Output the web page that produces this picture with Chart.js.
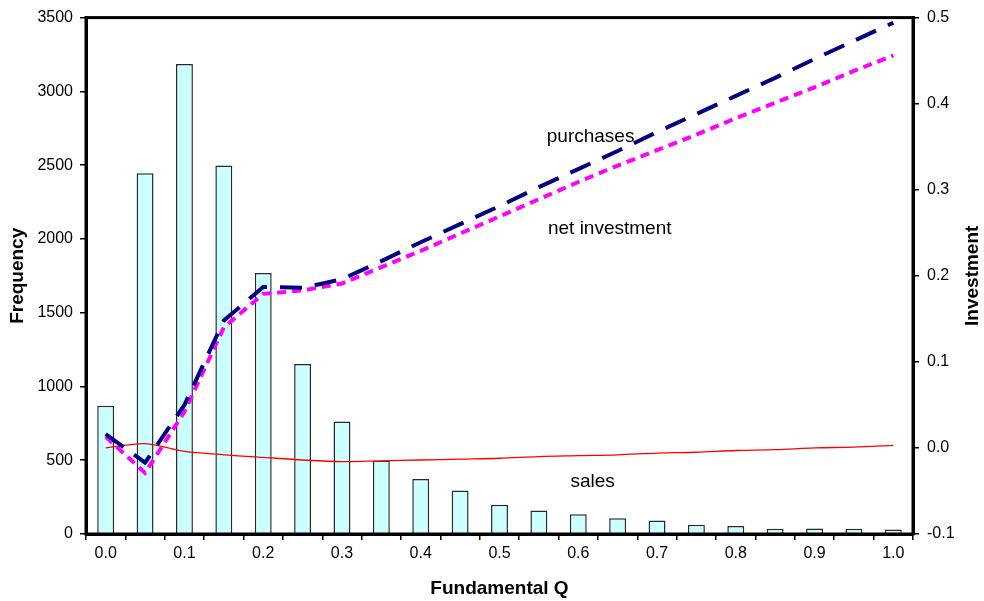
<!DOCTYPE html>
<html>
<head>
<meta charset="utf-8">
<script src="https://cdn.jsdelivr.net/npm/chart.js@4.4.1/dist/chart.umd.min.js"></script>
<style>
  html, body { margin: 0; padding: 0; background: #fff; }
  #chart { display: block; }
</style>
</head>
<body>
<canvas id="chart" width="984" height="601"></canvas>
<script>
const categories = [0.00, 0.05, 0.10, 0.15, 0.20, 0.25, 0.30, 0.35, 0.40, 0.45, 0.50,
  0.55, 0.60, 0.65, 0.70, 0.75, 0.80, 0.85, 0.90, 0.95, 1.00];
const xTickLabels = ["0.0", "0.1", "0.2", "0.3", "0.4", "0.5", "0.6", "0.7", "0.8", "0.9", "1.0"];

const frequency = [870, 2445, 3185, 2497, 1769, 1153, 762, 499, 373, 295, 199,
  160, 134, 106, 91, 63, 54, 36, 38, 36, 30];
const purchases = [0.016, -0.017, 0.050, 0.148, 0.187, 0.186, 0.196, 0.217, 0.239, 0.260, 0.281,
  0.303, 0.324, 0.345, 0.367, 0.388, 0.409, 0.430, 0.452, 0.473, 0.494];
const netInvestment = [0.013, -0.029, 0.042, 0.140, 0.179, 0.183, 0.191, 0.210, 0.229, 0.249, 0.269,
  0.289, 0.309, 0.328, 0.346, 0.364, 0.383, 0.401, 0.419, 0.438, 0.456];
const sales = [0.000, 0.005, -0.004, -0.008, -0.011, -0.014, -0.016, -0.015, -0.014, -0.013, -0.012,
  -0.010, -0.009, -0.008, -0.006, -0.005, -0.003, -0.002, 0.000, 0.001, 0.003];

const FONT = "'Liberation Sans', Arial, sans-serif";

// text labels placed on the plot (x = category index, y = investment value)
const notes = [
  { text: "purchases", x: 11.2, y: 0.362 },
  { text: "net investment", x: 11.23, y: 0.255 },
  { text: "sales", x: 11.8, y: -0.039 },
];

const extrasPlugin = {
  id: "extras",
  afterDraw(chart) {
    const { ctx, chartArea, scales } = chart;
    ctx.save();
    // frame round the plot area
    ctx.strokeStyle = "#000";
    ctx.lineWidth = 3;
    ctx.strokeRect(chartArea.left, chartArea.top, chartArea.right - chartArea.left, chartArea.bottom - chartArea.top);

    ctx.fillStyle = "#000";
    ctx.textBaseline = "middle";
    ctx.font = "19px " + FONT;
    ctx.textAlign = "left";
    notes.forEach((n) => {
      ctx.fillText(n.text, scales.x.getPixelForValue(n.x), scales.y1.getPixelForValue(n.y));
    });

    // axis titles
    ctx.font = "bold 19px " + FONT;
    ctx.textAlign = "center";
    const midY = (chartArea.top + chartArea.bottom) / 2;
    ctx.fillText("Fundamental Q", (chartArea.left + chartArea.right) / 2, 589);
    [[18, "Frequency"], [973, "Investment"]].forEach(([x, t]) => {
      ctx.save();
      ctx.translate(x, midY);
      ctx.rotate(-Math.PI / 2);
      ctx.fillText(t, 0, 0);
      ctx.restore();
    });
    ctx.restore();
  },
};

new Chart(document.getElementById("chart").getContext("2d"), {
  type: "bar",
  data: {
    labels: categories.map((c) => c.toFixed(2)),
    datasets: [
      {
        type: "line",
        label: "purchases",
        data: purchases,
        yAxisID: "y1",
        borderColor: "#000080",
        borderWidth: 4,
        borderDash: [22, 13],
        pointRadius: 0,
        tension: 0,
        order: 1,
      },
      {
        type: "line",
        label: "net investment",
        data: netInvestment,
        yAxisID: "y1",
        borderColor: "#FF00FF",
        borderWidth: 4,
        borderDash: [9, 6],
        pointRadius: 0,
        tension: 0,
        order: 2,
      },
      {
        type: "line",
        label: "sales",
        data: sales,
        yAxisID: "y1",
        borderColor: "#FF0000",
        borderWidth: 1.3,
        pointRadius: 0,
        tension: 0.3,
        order: 3,
      },
      {
        type: "bar",
        label: "Frequency",
        data: frequency,
        yAxisID: "y",
        backgroundColor: "#CCFFFF",
        borderColor: "#2a2a2a",
        borderWidth: 1.5,
        barPercentage: 0.43,
        categoryPercentage: 1.0,
        order: 10,
      },
    ],
  },
  options: {
    responsive: false,
    animation: false,
    devicePixelRatio: 1,
    layout: { padding: { top: 15, left: 0, right: 0, bottom: 0 } },
    plugins: {
      legend: { display: false },
      tooltip: { enabled: false },
    },
    scales: {
      x: {
        type: "category",
        offset: true,
        afterFit: (s) => { s.height = 67; },
        grid: { offset: true, drawOnChartArea: false, tickLength: 6, color: "#000", lineWidth: 1.5 },
        border: { display: true, color: "#000", width: 3 },
        ticks: {
          autoSkip: false,
          maxRotation: 0,
          padding: 4,
          color: "#000",
          font: { family: FONT, size: 16 },
          callback: (v, i) => (i % 2 === 0 ? xTickLabels[i / 2] : ""),
        },
      },
      y: {
        position: "left",
        min: 0,
        max: 3500,
        afterFit: (s) => { s.width = 86; },
        grid: { drawOnChartArea: false, tickLength: 6, color: "#000", lineWidth: 1.5 },
        border: { display: true, color: "#000", width: 3 },
        ticks: {
          stepSize: 500,
          padding: 7,
          color: "#000",
          font: { family: FONT, size: 16 },
          callback: (v) => String(v),
        },
      },
      y1: {
        position: "right",
        min: -0.1,
        max: 0.5,
        afterFit: (s) => { s.width = 71; },
        grid: { drawOnChartArea: false, tickLength: 6, color: "#000", lineWidth: 1.5 },
        border: { display: true, color: "#000", width: 3 },
        ticks: {
          stepSize: 0.1,
          padding: 8,
          color: "#000",
          font: { family: FONT, size: 16 },
          callback: (v) => (Math.round(v * 10) / 10).toFixed(1),
        },
      },
    },
  },
  plugins: [extrasPlugin],
});
</script>
</body>
</html>
